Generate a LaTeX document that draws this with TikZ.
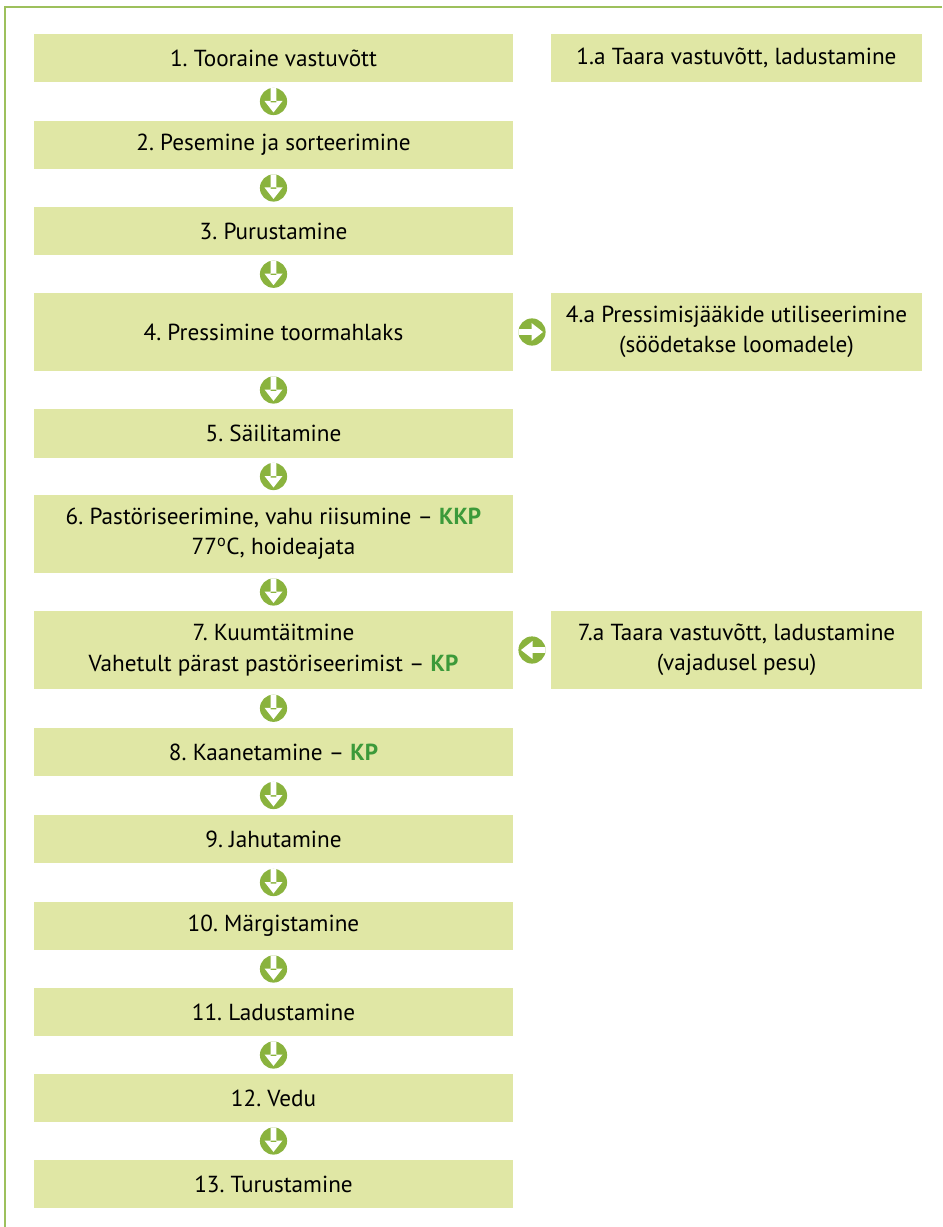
\documentclass[tikz,border=0pt]{standalone}
\usepackage{fontspec}
\setmainfont{PT Sans}
\usepackage{xcolor}
\usetikzlibrary{calc}
\frenchspacing

\definecolor{boxfill}{HTML}{E0E7A5}
\definecolor{iconfill}{HTML}{8AB33E}
\definecolor{kpgreen}{HTML}{3C9A3A}
\definecolor{framegreen}{HTML}{9DC05C}

\begin{document}
\begin{tikzpicture}[x=0.025cm, y=-0.025cm,
    stepbox/.style={rectangle, fill=boxfill, inner sep=0pt, minimum width=11.975cm, minimum height=1.2cm,
        align=center, text=black, font=\fontsize{16.5}{21.5}\selectfont},
    tallbox/.style={stepbox, minimum height=1.925cm},
    sidebox/.style={stepbox, minimum width=9.275cm},
    tallside/.style={sidebox, minimum height=1.925cm},
    icon/.style={circle, fill=iconfill, inner sep=0pt, minimum size=0.68cm,
        path picture={\fill[white, shift={(path picture bounding box.center)}] #1;}},
    downicon/.style={icon={(-2.8,-14) rectangle (2.8,1) (-9,-0.5) -- (9,-0.5) -- (0,11) -- cycle}},
    righticon/.style={icon={(-14,-2.8) rectangle (1,2.8) (-0.5,-9) -- (-0.5,9) -- (11,0) -- cycle}},
    lefticon/.style={icon={(14,-2.8) rectangle (-1,2.8) (0.5,-9) -- (0.5,9) -- (-11,0) -- cycle}}]

    \useasboundingbox (0,0) rectangle (942,1227);
    \draw[framegreen, line width=1.1pt] (942,7) -- (5,7) -- (5,1227);

    % Main steps
    \node[stepbox] (s1) at (273.5,58) {1. Tooraine vastuvõtt};
    \node[stepbox] (s2) at (273.5,145) {2. Pesemine ja sorteerimine};
    \node[stepbox] (s3) at (273.5,231) {3. Purustamine};
    \node[tallbox] (s4) at (273.5,332) {4. Pressimine toormahlaks};
    \node[stepbox] (s5) at (273.5,433.5) {5. Säilitamine};
    \node[tallbox] (s6) at (273.5,534) {6. Pastöriseerimine, vahu riisumine -- \textcolor{kpgreen}{\textbf{KKP}}\\
        77\textsuperscript{o}C, hoideajata};
    \node[tallbox] (s7) at (273.5,650) {7. Kuumtäitmine\\
        Vahetult pärast pastöriseerimist -- \textcolor{kpgreen}{\textbf{KP}}};
    \node[stepbox] (s8) at (273.5,752) {8. Kaanetamine -- \textcolor{kpgreen}{\textbf{KP}}};
    \node[stepbox] (s9) at (273.5,839) {9. Jahutamine};
    \node[stepbox] (s10) at (273.5,926) {10. Märgistamine};
    \node[stepbox] (s11) at (273.5,1012) {11. Ladustamine};
    \node[stepbox] (s12) at (273.5,1098) {12. Vedu};
    \node[stepbox] (s13) at (273.5,1184) {13. Turustamine};

    % Side steps
    \node[sidebox] (s1a) at (736.5,58) {1.a Taara vastuvõtt, ladustamine};
    \node[tallside] (s4a) at (736.5,332) {4.a Pressimisjääkide utiliseerimine\\(söödetakse loomadele)};
    \node[tallside] (s7a) at (736.5,650) {7.a Taara vastuvõtt, ladustamine\\(vajadusel pesu)};

    % Arrows
    \foreach \a/\b in {s1/s2, s2/s3, s3/s4, s4/s5, s5/s6, s6/s7, s7/s8, s8/s9, s9/s10, s10/s11, s11/s12, s12/s13}
        \node[downicon] (i\a) at ($(\a.south)!0.5!(\b.north)$) {};
    \node[righticon] (i4a) at ($(s4.east)!0.5!(s4a.west)$) {};
    \node[lefticon] (i7a) at ($(s7.east)!0.5!(s7a.west)$) {};
\end{tikzpicture}
\end{document}
